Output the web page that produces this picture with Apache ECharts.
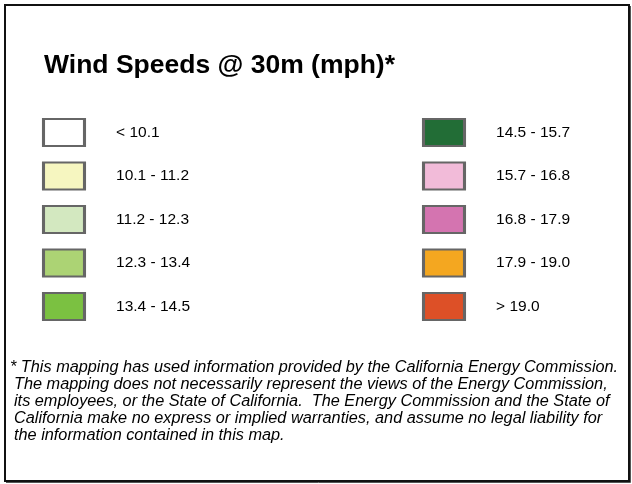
<!DOCTYPE html>
<html>
<head>
<meta charset="utf-8">
<style>html,body{margin:0;padding:0;background:#fff;}#c{width:632px;height:484px;}</style>
<script src="https://cdn.jsdelivr.net/npm/echarts@6/dist/echarts.min.js"></script>
</head>
<body>
<div id="c"></div>
<script>
var titleText = 'Wind Speeds @ 30m (mph)*';
var categories = ['< 10.1', '10.1 - 11.2', '11.2 - 12.3', '12.3 - 13.4', '13.4 - 14.5',
                  '14.5 - 15.7', '15.7 - 16.8', '16.8 - 17.9', '17.9 - 19.0', '> 19.0'];
var colors = ['#ffffff', '#f6f6c0', '#d3e8c0', '#acd374', '#7bc141',
              '#226d36', '#f2bbd9', '#d474b0', '#f4a720', '#dd5027'];
var footnoteLines = [
  '* This mapping has used information provided by the California Energy Commission.',
  'The mapping does not necessarily represent the views of the Energy Commission,',
  'its employees, or the State of California.  The Energy Commission and the State of',
  'California make no express or implied warranties, and assume no legal liability for',
  'the information contained in this map.'
];
var rowsPerColumn = 5;

var data = categories.map(function (name, i) {
  return {
    name: name,
    value: [Math.floor(i / rowsPerColumn), i % rowsPerColumn],
    itemStyle: { color: colors[i] }
  };
});

var font = '"Liberation Sans", Arial, sans-serif';
var footGraphics = footnoteLines.map(function (line, i) {
  return {
    type: 'text',
    left: i === 0 ? 10 : 14,
    top: 359 + i * 17,
    style: {
      text: line,
      font: 'italic 16.3px ' + font,
      fill: '#000'
    }
  };
});

var chart = echarts.init(document.getElementById('c'), null, { renderer: 'canvas' });
chart.setOption({
  animation: false,
  backgroundColor: '#fff',
  title: {
    text: titleText,
    left: 44,
    top: 52,
    padding: 0,
    textStyle: { fontFamily: font, fontSize: 26.5, fontWeight: 'bold', color: '#000' }
  },
  grid: { left: 64, top: 132.5, width: 380, height: 174 },
  xAxis: { type: 'value', min: 0, max: 1, show: false },
  yAxis: { type: 'value', min: 0, max: 4, inverse: true, show: false },
  graphic: [{
    type: 'rect',
    shape: { x: 5, y: 5, width: 624, height: 476 },
    style: { fill: 'none', stroke: '#111', lineWidth: 2 },
    z: 10
  }, {
    type: 'polyline',
    shape: { points: [[630.5, 6], [630.5, 482.5], [6, 482.5]] },
    style: { fill: 'none', stroke: '#555', lineWidth: 1 },
    z: 10
  }].concat(footGraphics),
  series: [{
    type: 'scatter',
    symbol: 'rect',
    symbolSize: [41, 27],
    data: data,
    itemStyle: { borderColor: '#666', borderWidth: 2.5, opacity: 1 },
    label: {
      show: true,
      position: 'right',
      distance: 30,
      formatter: '{b}',
      fontFamily: font,
      fontSize: 15.5,
      color: '#000'
    },
    emphasis: { disabled: true }
  }]
});
</script>
</body>
</html>
